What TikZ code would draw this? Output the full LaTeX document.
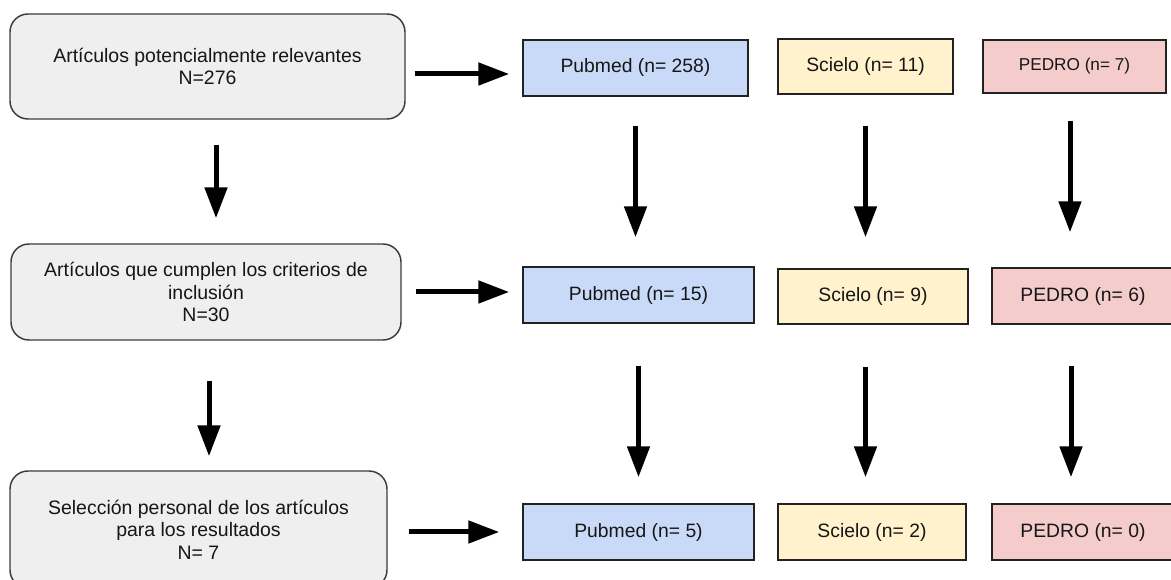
\documentclass[tikz,border=0pt]{standalone}
\usepackage{fontspec}
\setmainfont{Liberation Sans}
\usetikzlibrary{arrows.meta,calc}
\definecolor{leftfill}{HTML}{EFEFEF}
\definecolor{leftdraw}{HTML}{3C3C3C}
\definecolor{pubfill}{HTML}{C9DAF8}
\definecolor{scifill}{HTML}{FFF2CC}
\definecolor{pedfill}{HTML}{F4CCCC}
\definecolor{boxdraw}{HTML}{222222}
\definecolor{txt}{HTML}{161616}
\tikzset{
  leftbox/.style={draw=leftdraw, fill=leftfill, line width=1.1pt, rounded corners=13.5pt,
    align=center, text=txt, inner sep=0pt, font=\fontsize{14.6}{16.9}\selectfont},
  dbbox/.style={draw=boxdraw, line width=1.1pt, align=center, text=txt, inner sep=0pt,
    font=\fontsize{14.5}{16.9}\selectfont},
  pubbox/.style={dbbox, fill=pubfill},
  scibox/.style={dbbox, fill=scifill},
  pedbox/.style={dbbox, fill=pedfill},
  boxtext/.style={text=txt, inner sep=0pt, font=\fontsize{14.5}{16.9}\selectfont},
  arr/.style={line width=3.75pt, -{Triangle[length=23.25pt, width=16.5pt]}}
}
\begin{document}
\begin{tikzpicture}[x=0.75pt, y=-0.75pt]
\useasboundingbox[fill=white] (0,0) rectangle (1171,580);
% left column
\node[leftbox, minimum width=296.25pt, minimum height=78.75pt] (L1) at (207.5,66.5)
  {Artículos potencialmente relevantes\\N=276};
\node[leftbox, minimum width=292.5pt, minimum height=72pt] (L2) at (206,292)
  {Artículos que cumplen los criterios de\\inclusión\\N=30};
\node[leftbox, minimum width=282.75pt, minimum height=87.75pt] (L3) at (198.5,529.5)
  {Selección personal de los artículos\\para los resultados\\N= 7};
% row 1
\node[pubbox, minimum width=168.75pt, minimum height=42pt] (M1) at (635.5,68) {Pubmed (n= 258)};
\node[scibox, minimum width=131.25pt, minimum height=41.25pt] (S1) at (865.5,66.5) {Scielo (n= 11)};
\node[pedbox, minimum width=137.25pt, minimum height=39.75pt, font=\fontsize{12.9}{15}\selectfont] (P1) at (1074.5,66.5) {PEDRO (n= 7)};
% row 2
\node[pubbox, minimum width=173.25pt, minimum height=42pt] (M2) at (638.5,295) {Pubmed (n= 15)};
\node[scibox, minimum width=142.5pt, minimum height=41.25pt] (S2) at (873,296.5) {Scielo (n= 9)};
\node[pedbox, minimum width=141pt, minimum height=42pt] (P2) at (1086,296) {};
\node[boxtext] (P2t) at (1083,296) {PEDRO (n= 6)};
% row 3
\node[pubbox, minimum width=173.25pt, minimum height=42pt] (M3) at (638.5,532) {Pubmed (n= 5)};
\node[scibox, minimum width=141pt, minimum height=42pt] (S3) at (872,532) {Scielo (n= 2)};
\node[pedbox, minimum width=141pt, minimum height=42pt] (P3) at (1086,532) {};
\node[boxtext] (P3t) at (1083,532) {PEDRO (n= 0)};
% helper coordinates
\coordinate (lc1) at ($(L1.south)+(8.5,0)$);
\coordinate (lc2) at ($(L2.south)+(3,0)$);
\coordinate (pc) at ($(P1.south)+(-4.5,0)$);
\coordinate (pc2) at ($(P2.south)+(-15,0)$);
\coordinate (h1) at ($(L1.east)+(0,7.5)$);
\coordinate (h2) at (L2.east);
\coordinate (h3) at ($(L3.east)+(0,2.5)$);
% left vertical arrows
\draw[arr, shorten <=18.75pt, shorten >=18.75pt] (lc1) -- (lc1 |- L2.north);
\draw[arr, shorten <=30pt, shorten >=10.5pt] (lc2) -- (lc2 |- L3.north);
% horizontal arrows
\draw[arr, shorten <=6.75pt, shorten >=9.75pt] (h1) -- (h1 -| M1.west);
\draw[arr, shorten <=10.5pt, shorten >=9.75pt] (h2) -- (h2 -| M2.west);
\draw[arr, shorten <=15.75pt, shorten >=17.25pt] (h3) -- (h3 -| M3.west);
% pubmed column
\draw[arr, shorten <=21.75pt, shorten >=21.75pt] (M1.south) -- (M1.south |- M2.north);
\draw[arr, shorten <=31.5pt, shorten >=19.5pt] (M2.south) -- (M2.south |- M3.north);
% scielo column
\draw[arr, shorten <=23.25pt, shorten >=23.25pt] (S1.south) -- (S1.south |- S2.north);
\draw[arr, shorten <=31.5pt, shorten >=19.5pt] (S1.south |- S2.south) -- (S1.south |- S3.north);
% pedro column
\draw[arr, shorten <=20.25pt, shorten >=26.25pt] (pc) -- (pc |- P2.north);
\draw[arr, shorten <=30.75pt, shorten >=19.5pt] (pc2) -- (pc2 |- P3.north);
\end{tikzpicture}
\end{document}
